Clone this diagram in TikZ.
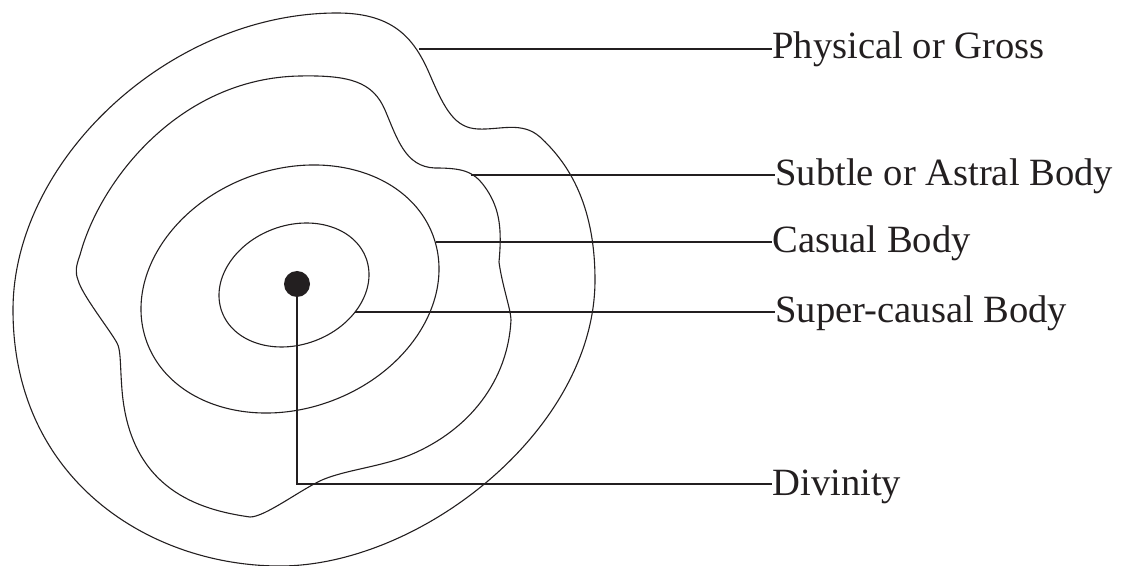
\documentclass[tikz,border=0pt]{standalone}
\usepackage{fontspec}
\setmainfont{Liberation Serif}
\definecolor{ink}{RGB}{35,31,32}
\begin{document}
\begin{tikzpicture}[x=0.5pt,y=-0.5pt,
  curve/.style={draw=ink,line width=0.55pt},
  lead/.style={draw=ink,line width=0.55pt},
  lbl/.style={anchor=base west,inner sep=0pt,text=ink,font=\fontsize{19.3}{23}\selectfont}]
\useasboundingbox (0,0) rectangle (1130,566);
% Physical or Gross (outer)
\draw[curve] (337,13)
  .. controls (170,13) and (13,160) .. (13,310)
  .. controls (13,480) and (150,566) .. (280,566)
  .. controls (420,566) and (595,430) .. (595,280)
  .. controls (595,200) and (565,160) .. (540,137)
  .. controls (522,121) and (500,130) .. (478,129)
  .. controls (455,128) and (445,110) .. (430,75)
  .. controls (415,40) and (395,13) .. cycle;
% Subtle or Astral Body
\draw[curve] (300,76)
  .. controls (350,75) and (373,82) .. (385,110)
  .. controls (397,138) and (405,167) .. (435,168)
  .. controls (465,168) and (475,172) .. (487,190)
  .. controls (500,210) and (502,230) .. (499,262)
  .. controls (502,285) and (511,310) .. (511,320)
  .. controls (508,380) and (470,430) .. (410,455)
  .. controls (380,467) and (345,470) .. (322,480)
  .. controls (300,490) and (265,517) .. (250,517)
  .. controls (200,510) and (130,490) .. (122,390)
  .. controls (120,365) and (121,350) .. (117,343)
  .. controls (110,330) and (82,295) .. (78,280)
  .. controls (75,272) and (76,266) .. (80,255)
  .. controls (100,180) and (180,78) .. cycle;
% Casual Body
\draw[curve,rotate around={20.6:(290,289)}] (290,289) ellipse [x radius=152.7,y radius=119.4];
% Super-causal Body
\draw[curve,rotate around={20.5:(294,285)}] (294,285) ellipse [x radius=76.9,y radius=59.6];
% Divinity dot
\node[circle,fill=ink,inner sep=0pt,minimum size=13pt] (dot) at (297,284) {};
% attachment points
\coordinate (a1) at (419,49);
\coordinate (a2) at (471,175);
\coordinate (a3) at (435.5,242);
\coordinate (a4) at (355,312);
\coordinate (a5) at (297,484);
% labels
\node[lbl] (t1) at (772,59) {Physical or Gross};
\node[lbl] (t2) at (775,186) {Subtle or Astral Body};
\node[lbl] (t3) at (772,253) {Casual Body};
\node[lbl] (t4) at (775,323) {Super-causal Body};
\node[lbl] (t5) at (772,495) {Divinity};
% leaders
\draw[lead] (a1) -- (a1 -| t1.west);
\draw[lead] (a2) -- (a2 -| t2.west);
\draw[lead] (a3) -- (a3 -| t3.west);
\draw[lead] (a4) -- (a4 -| t4.west);
\draw[lead] (dot) -- (a5) -- (a5 -| t5.west);
\end{tikzpicture}
\end{document}
